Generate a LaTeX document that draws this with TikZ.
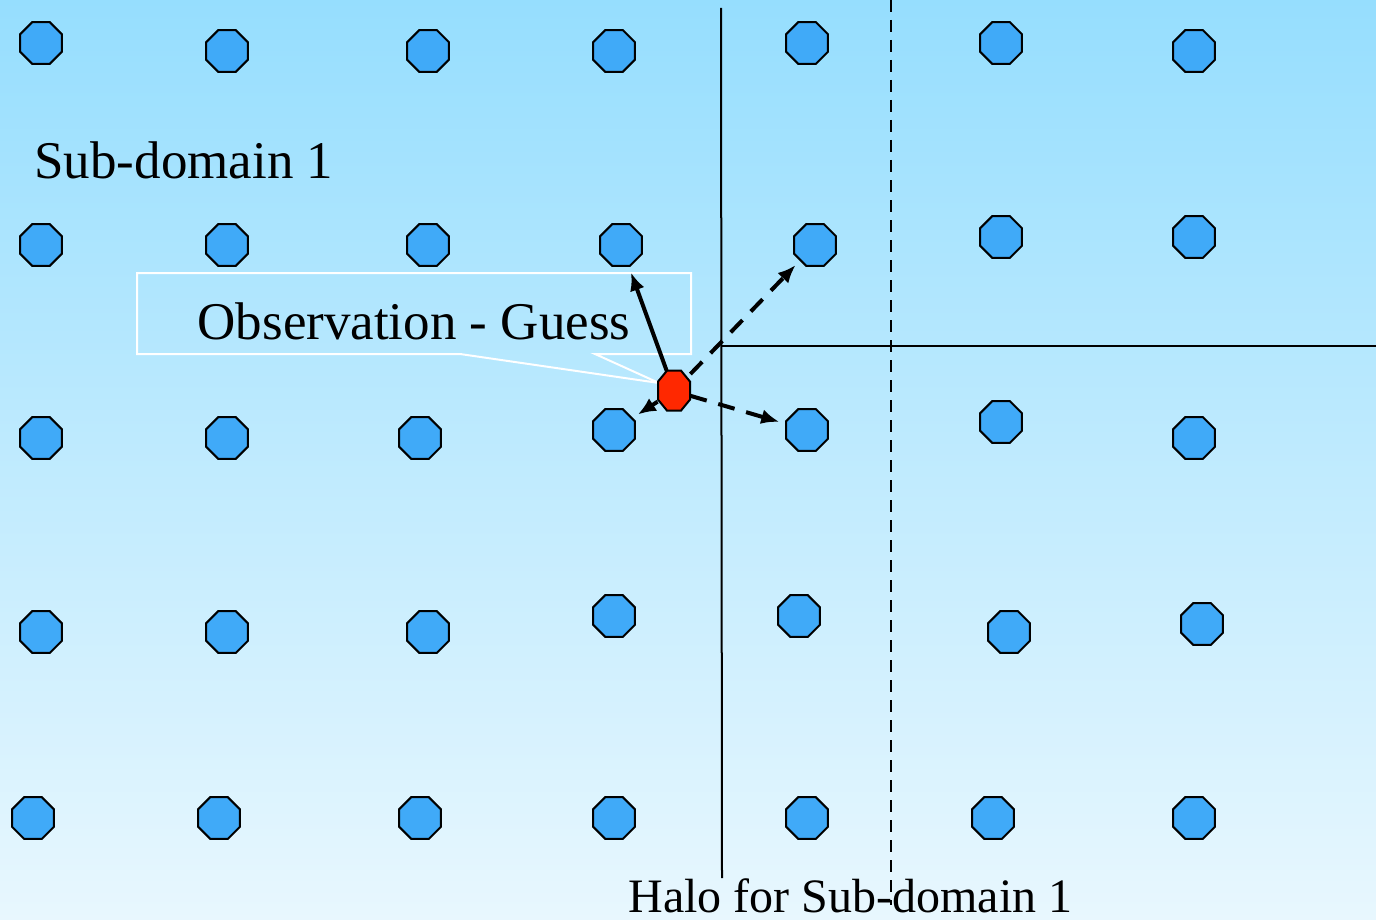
\documentclass[tikz,border=0pt]{standalone}
\usepackage{fontspec}
\setmainfont{Liberation Serif}
\usetikzlibrary{arrows.meta,shapes.geometric}
\definecolor{skytop}{HTML}{96DEFE}
\definecolor{skybot}{HTML}{E8F7FE}
\definecolor{gridblue}{HTML}{40AAF8}
\definecolor{obsred}{HTML}{FF2800}
\tikzset{
  gridpt/.style={draw=black,fill=gridblue,line width=1pt,
                 regular polygon,regular polygon sides=8,
                 minimum size=22.7pt,inner sep=0pt},
  obspt/.style={rectangle,minimum width=16pt,minimum height=20pt,inner sep=0pt},
  obsfill/.style={draw=black,fill=obsred,line width=1pt},
  boundline/.style={line width=1pt},
  haloline/.style={line width=1pt,dash pattern=on 6pt off 4pt},
  incarr/.style={-{Latex[length=9pt,width=7.5pt]},line width=2pt,shorten >=3pt},
  halarr/.style={incarr,dash pattern=on 8.5pt off 6pt},
  callout/.style={draw=white,line width=1pt},
  bigtext/.style={font=\fontsize{26.5}{30}\selectfont,inner sep=0pt}
}
\begin{document}
\begin{tikzpicture}[x=0.5pt,y=-0.5pt]
  \shade[top color=skytop,bottom color=skybot] (0,0) rectangle (1376,920);
  \useasboundingbox (0,0) rectangle (1376,920);

  % sub-domain boundaries
  \coordinate (vtop) at (721,8);
  \coordinate (vbot) at (722,878);
  \coordinate (hleft) at (721,346);
  \coordinate (hright) at (1376,346);
  \coordinate (halotop) at (891,0);
  \coordinate (halobot) at (891,905);
  \draw[haloline] (halotop)--(halobot);
  \draw[boundline] (vtop)--(vbot);
  \draw[boundline] (hleft)--(hright);

  % labels
  \node[bigtext,anchor=base west] (sublabel) at (34,178) {Sub-domain 1};
  \node[bigtext,font=\fontsize{24}{28}\selectfont,anchor=base west] (halolabel) at (628,912) {Halo for Sub-domain 1};

  % callout
  \coordinate (tip) at (659,383);
  \draw[callout] (460,354)--(137,354)--(137,273)--(691,273)--(691,354)--(595,354)--(tip)--cycle;
  \node[bigtext] (obslabel) at (414,321) {Observation - Guess};

  % grid points
  \foreach \name/\x/\y in {
      d11/41/43, d12/227/51, d13/428/51, d14/614/51, d15/807/43, d16/1001/43, d17/1194/51,
      d21/41/245, d22/227/245, d23/428/245, d24/621/245, d25/815/245, d26/1001/237, d27/1194/237,
      d31/41/438, d32/227/438, d33/420/438, d34/614/430, d35/807/430, d36/1001/422, d37/1194/438,
      d41/41/632, d42/227/632, d43/428/632, d44/614/616, d45/799/616, d46/1009/632, d47/1202/624,
      d51/33/818, d52/219/818, d53/420/818, d54/614/818, d55/807/818, d56/993/818, d57/1194/818}
    \node[gridpt] (\name) at (\x,\y) {};

  % observation
  \node[obspt] (obs) at (674,391) {};
  \draw[incarr] (obs)--(d24);
  \draw[halarr] (obs)--(d25);
  \draw[halarr] (obs)--(d34);
  \draw[halarr] (obs)--(d35);
  \draw[obsfill] (obs.north) ++(-3.5pt,0) -- ++(7pt,0) -- ++(4.5pt,-5.5pt) -- ++(0,-9pt)
    -- ++(-4.5pt,-5.5pt) -- ++(-7pt,0) -- ++(-4.5pt,5.5pt) -- ++(0,9pt) -- cycle;
\end{tikzpicture}
\end{document}
